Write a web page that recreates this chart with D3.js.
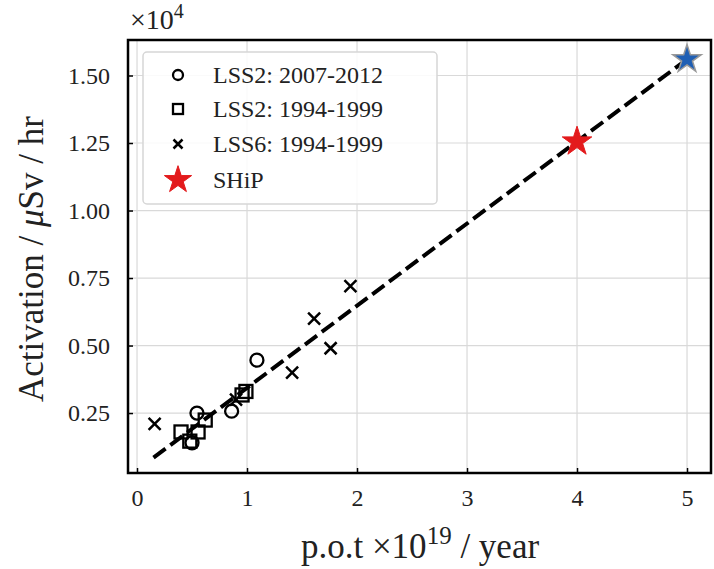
<!DOCTYPE html>
<html><head><meta charset="utf-8">
<script src="https://cdn.jsdelivr.net/npm/d3@7"></script>
<style>body{margin:0;background:#fff}svg{display:block}text{font-family:"Liberation Serif","DejaVu Serif",serif;fill:#222}</style>
</head><body><svg id="c" width="714" height="569"></svg>
<script>
// Data (activation in units of 1e4 µSv/hr, p.o.t in units of 1e19/year)
const circlesX = [1.09, 0.86, 0.545, 0.50];
const circlesY = [0.446, 0.257, 0.25, 0.14];
const squaresX = [0.40, 0.48, 0.555, 0.62, 0.955, 0.99];
const squaresY = [0.18, 0.146, 0.18, 0.224, 0.317, 0.33];
const crossesX = [0.16, 0.90, 1.41, 1.61, 1.76, 1.94];
const crossesY = [0.21, 0.30, 0.40, 0.60, 0.49, 0.72];
const shipX = [4.0], shipY = [1.255];
const blueX = [5.0], blueY = [1.56];
const fitX = [0.15, 5.0], fitY = [0.085, 1.56];
const xTicks = [0, 1, 2, 3, 4, 5];
const yTicks = [0.25, 0.50, 0.75, 1.00, 1.25, 1.50];
const legendLabels = ["LSS2: 2007-2012", "LSS2: 1994-1999", "LSS6: 1994-1999", "SHiP"];

const svg = d3.select("#c");
const L = 128, R = 711, T = 40, B = 473;
const x = d3.scaleLinear().domain([-0.082, 5.218]).range([L, R]);
const y = d3.scaleLinear().domain([0.028, 1.6315]).range([B, T]);

// grid
const g = svg.append("g");
g.selectAll(".gx").data(xTicks).enter().append("line")
  .attr("x1", d => x(d)).attr("x2", d => x(d)).attr("y1", T).attr("y2", B)
  .attr("stroke", "#d9d9d9").attr("stroke-width", 1.2);
g.selectAll(".gy").data(yTicks).enter().append("line")
  .attr("y1", d => y(d)).attr("y2", d => y(d)).attr("x1", L).attr("x2", R)
  .attr("stroke", "#d9d9d9").attr("stroke-width", 1.2);

// axes (ticks inward)
const xa = svg.append("g").attr("transform", `translate(0,${B})`)
  .call(d3.axisBottom(x).tickValues(xTicks).tickSize(-5).tickPadding(16).tickFormat(d3.format("d")));
const ya = svg.append("g").attr("transform", `translate(${L},0)`)
  .call(d3.axisLeft(y).tickValues(yTicks).tickSize(-5).tickPadding(18).tickFormat(d3.format(".2f")));
[xa, ya].forEach(a => {
  a.select(".domain").remove();
  a.selectAll(".tick line").attr("stroke", "#000").attr("stroke-width", 1.5);
  a.selectAll(".tick text").style("font-family", "'Liberation Serif',serif").style("font-size", "24px").attr("fill", "#222");
});

// fit line
const line = d3.line().x(d => x(d[0])).y(d => y(d[1]));
svg.append("path").datum(d3.zip(fitX, fitY)).attr("d", line)
  .attr("fill", "none").attr("stroke", "#000").attr("stroke-width", 4)
  .attr("stroke-dasharray", "15,6");

// markers
const sym = (type, size) => d3.symbol().type(type).size(size)();
svg.selectAll(".sq").data(d3.zip(squaresX, squaresY)).enter().append("rect")
  .attr("x", d => x(d[0]) - 6.5).attr("y", d => y(d[1]) - 6.5).attr("width", 13).attr("height", 13)
  .attr("fill", "none").attr("stroke", "#000").attr("stroke-width", 2.3);
svg.selectAll(".ci").data(d3.zip(circlesX, circlesY)).enter().append("circle")
  .attr("cx", d => x(d[0])).attr("cy", d => y(d[1])).attr("r", 6.5)
  .attr("fill", "none").attr("stroke", "#000").attr("stroke-width", 2.3);
const cross = (cx, cy, s) => `M${cx - s},${cy - s}L${cx + s},${cy + s}M${cx - s},${cy + s}L${cx + s},${cy - s}`;
svg.selectAll(".cr").data(d3.zip(crossesX, crossesY)).enter().append("path")
  .attr("d", d => cross(x(d[0]), y(d[1]), 6))
  .attr("stroke", "#000").attr("stroke-width", 2.5).attr("fill", "none");
svg.selectAll(".ship").data(d3.zip(shipX, shipY)).enter().append("path")
  .attr("d", sym(d3.symbolStar, 270)).attr("transform", d => `translate(${x(d[0])},${y(d[1])})`)
  .attr("fill", "#e31a1c").attr("stroke", "#e31a1c").attr("stroke-width", 1);
svg.selectAll(".blue").data(d3.zip(blueX, blueY)).enter().append("path")
  .attr("d", sym(d3.symbolStar, 250)).attr("transform", d => `translate(${x(d[0])},${y(d[1])})`)
  .attr("fill", "#1f5fb4").attr("stroke", "#999").attr("stroke-width", 1.5);

// frame
svg.append("rect").attr("x", L).attr("y", T).attr("width", R - L).attr("height", B - T)
  .attr("fill", "none").attr("stroke", "#000").attr("stroke-width", 2.5);

// legend
const lg = svg.append("g");
lg.append("rect").attr("x", 143).attr("y", 52).attr("width", 294).attr("height", 152).attr("rx", 4)
  .attr("fill", "#fff").attr("fill-opacity", 0.85).attr("stroke", "#d6d6d6").attr("stroke-width", 1.5);
const rowsY = [75, 109, 144, 180];
lg.append("circle").attr("cx", 178).attr("cy", rowsY[0]).attr("r", 5).attr("fill", "none").attr("stroke", "#000").attr("stroke-width", 2.3);
lg.append("rect").attr("x", 173).attr("y", rowsY[1] - 5).attr("width", 10).attr("height", 10).attr("fill", "none").attr("stroke", "#000").attr("stroke-width", 2.3);
lg.append("path").attr("d", cross(178, rowsY[2], 4.5)).attr("stroke", "#000").attr("stroke-width", 2.5);
lg.append("path").attr("d", sym(d3.symbolStar, 230)).attr("transform", `translate(178,${rowsY[3]})`).attr("fill", "#e31a1c").attr("stroke", "#e31a1c");
lg.selectAll(".lt").data(legendLabels).enter().append("text")
  .attr("x", 213).attr("y", (d, i) => rowsY[i]).attr("dy", "0.35em")
  .style("font-size", "24px").text(d => d);

// scale factor label
const sf = svg.append("text").attr("x", 130).attr("y", 29).style("font-size", "28px");
sf.append("tspan").text("×10");
sf.append("tspan").attr("dy", -11).style("font-size", "20px").text("4");

// axis labels
const xl = svg.append("text").attr("x", 420).attr("y", 558).attr("text-anchor", "middle").style("font-size", "35px");
xl.append("tspan").text("p.o.t ×10");
xl.append("tspan").attr("dy", -14).style("font-size", "25px").text("19");
xl.append("tspan").attr("dy", 14).text(" / year");
const yl = svg.append("text").attr("transform", "translate(43,259) rotate(-90)").attr("text-anchor", "middle").style("font-size", "35px");
yl.append("tspan").text("Activation / ");
yl.append("tspan").style("font-style", "italic").text("μ");
yl.append("tspan").text("Sv / hr");
</script></body></html>
